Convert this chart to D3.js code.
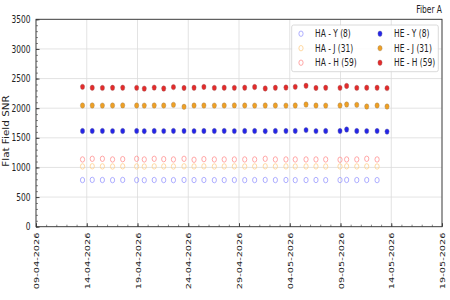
<!DOCTYPE html>
<html>
<head>
<meta charset="utf-8">
<script src="https://cdn.jsdelivr.net/npm/d3@7"></script>
<style>
  body { margin: 0; background: #fff; }
  text { font-family: "DejaVu Sans", sans-serif; fill: #222; }
</style>
</head>
<body>
<div id="chart"></div>
<script>
// observation times (day-month-year hour:minute)
let obsDates = [
  "13-04-2026 14:00", "14-04-2026 13:00", "15-04-2026 13:00", "16-04-2026 13:00", "17-04-2026 13:00",
  "18-04-2026 22:00", "19-04-2026 16:00", "20-04-2026 15:30", "21-04-2026 14:00", "22-04-2026 13:00",
  "23-04-2026 14:00", "24-04-2026 13:40", "25-04-2026 13:00", "26-04-2026 13:40", "27-04-2026 13:00",
  "28-04-2026 13:00", "29-04-2026 13:30", "30-04-2026 13:00", "01-05-2026 14:00", "02-05-2026 14:00",
  "03-05-2026 15:00", "04-05-2026 13:00", "05-05-2026 14:30", "06-05-2026 14:00", "07-05-2026 13:00",
  "08-05-2026 22:50", "09-05-2026 14:30", "10-05-2026 14:30", "11-05-2026 14:00", "12-05-2026 14:30",
  "13-05-2026 14:00"
];

let haY = [787, 790, 788, 786, 789, 787, 785, 788, 787, 786, 789, 787, 788, 786, 787, 788, 786, 787, 789, 787,
           788, 786, 787, 788, 786, 787, 789, 787, 788, 786, null];
let haJ = [1017, 1020, 1018, 1016, 1019, 1017, 1015, 1018, 1017, 1016, 1019, 1017, 1018, 1016, 1017, 1018, 1016, 1017, 1019, 1017,
           1018, 1016, 1017, 1018, 1016, 1017, 1019, 1017, 1018, 1016, null];
let haH = [1135, 1146, 1146, 1135, 1140, 1146, 1135, 1146, 1140, 1135, 1146, 1130, 1140, 1135, 1135, 1135, 1135, 1135, 1146, 1135,
           1135, 1135, 1135, 1135, 1135, 1130, 1135, 1135, 1146, 1135, null];
let heY = [1615, 1614, 1616, 1613, 1615, 1614, 1612, 1615, 1613, 1616, 1614, 1613, 1615, 1614, 1616, 1613, 1615, 1614, 1612, 1615,
           1614, 1616, 1630, 1613, 1615, 1614, 1640, 1615, 1613, 1614, 1605];
let heJ = [2045, 2046, 2044, 2045, 2047, 2045, 2044, 2046, 2045, 2056, 2023, 2045, 2046, 2044, 2045, 2047, 2045, 2044, 2046, 2045,
           2044, 2046, 2062, 2045, 2044, 2046, 2062, 2056, 2028, 2045, 2028];
let heH = [2360, 2345, 2342, 2344, 2346, 2343, 2330, 2347, 2332, 2355, 2341, 2344, 2358, 2342, 2345, 2343, 2346, 2357, 2333, 2344,
           2348, 2360, 2378, 2341, 2344, 2343, 2375, 2342, 2345, 2344, 2338];

let xTickLabels = ["09-04-2026", "14-04-2026", "19-04-2026", "24-04-2026", "29-04-2026",
                   "04-05-2026", "09-05-2026", "14-05-2026", "19-05-2026"];
let yTicks = [0, 500, 1000, 1500, 2000, 2500, 3000, 3500];

let seriesNames = ["HA - Y (8)", "HA - J (31)", "HA - H (59)", "HE - Y (8)", "HE - J (31)", "HE - H (59)"];

let svgWidth = 450;
let svgHeight = 300;
let margin = { top: 19.3, right: 8, bottom: 73.3, left: 36 };
let width = svgWidth - margin.left - margin.right;
let height = svgHeight - margin.top - margin.bottom;
let sy = 1.3; // text looks vertically stretched in the reference

let parseObs = d3.timeParse("%d-%m-%Y %H:%M");
let parseDay = d3.timeParse("%d-%m-%Y");

let svg = d3.select("#chart")
  .append("svg")
  .attr("width", svgWidth)
  .attr("height", svgHeight);

let chartGroup = svg.append("g")
  .attr("transform", `translate(${margin.left}, ${margin.top})`);

let tickDates = xTickLabels.map(parseDay);
let x = d3.scaleTime()
  .domain([tickDates[0], tickDates[tickDates.length - 1]])
  .range([0, width]);

let y = d3.scaleLinear()
  .domain([0, 3500])
  .range([height, 0]);

// grid
chartGroup.append("g")
  .selectAll("line.vg")
  .data(tickDates)
  .enter()
  .append("line")
  .attr("x1", d => x(d)).attr("x2", d => x(d))
  .attr("y1", 0).attr("y2", height)
  .attr("stroke", "#dcdcdc").attr("stroke-width", 0.8);

chartGroup.append("g")
  .selectAll("line.hg")
  .data(yTicks)
  .enter()
  .append("line")
  .attr("x1", 0).attr("x2", width)
  .attr("y1", d => y(d)).attr("y2", d => y(d))
  .attr("stroke", "#dcdcdc").attr("stroke-width", 0.8);

// minor ticks (inside)
let dayTicks = d3.timeDay.range(tickDates[0], tickDates[tickDates.length - 1]);
chartGroup.append("g")
  .call(d3.axisBottom(x).tickValues(dayTicks).tickSize(-2).tickFormat(""))
  .attr("transform", `translate(0, ${height})`)
  .call(g => g.select(".domain").remove())
  .selectAll("line").attr("stroke", "#555").attr("stroke-width", 0.7);

chartGroup.append("g")
  .call(d3.axisLeft(y).tickValues(d3.range(0, 3501, 100)).tickSize(-2).tickFormat(""))
  .call(g => g.select(".domain").remove())
  .selectAll("line").attr("stroke", "#555").attr("stroke-width", 0.7);

// major axes
let leftAxis = d3.axisLeft(y).tickValues(yTicks).tickSize(-3.5).tickPadding(5.5)
  .tickFormat(d3.format("d"));
let bottomAxis = d3.axisBottom(x).tickValues(tickDates).tickSize(-3.5)
  .tickFormat((d, i) => xTickLabels[i]);

chartGroup.append("g")
  .call(leftAxis)
  .call(g => g.select(".domain").remove())
  .call(g => g.selectAll("line").attr("stroke", "#444"))
  .selectAll("text")
  .attr("font-size", 7.5)
  .attr("font-family", "DejaVu Sans")
  .attr("fill", "#222")
  .attr("transform", `scale(1, ${sy})`);

chartGroup.append("g")
  .attr("transform", `translate(0, ${height})`)
  .call(bottomAxis)
  .call(g => g.select(".domain").remove())
  .call(g => g.selectAll("line").attr("stroke", "#444"))
  .selectAll("text")
  .attr("font-size", 7.5)
  .attr("font-family", "DejaVu Sans")
  .attr("fill", "#222")
  .attr("text-anchor", "end")
  .attr("x", -4.5)
  .attr("y", 0)
  .attr("dy", "0.35em")
  .attr("transform", `scale(1, ${sy}) rotate(-90)`);

// frame
chartGroup.append("rect")
  .attr("x", 0).attr("y", 0)
  .attr("width", width).attr("height", height)
  .attr("fill", "none")
  .attr("stroke", "#333")
  .attr("stroke-width", 0.9);

// data
let times = obsDates.map(parseObs);
let seriesList = [haY, haJ, haH, heY, heJ, heH];
let fills = ["none", "none", "none", "#2424e8", "#efa024", "#e42a2a"];
let strokes = ["#9a9aff", "#ffcf8c", "#ff9090", "#6a6a9a", "#9a8060", "#9a5a5a"];
let rx = 2.1, ry = 2.7;

seriesList.forEach(function(vals, si) {
  let pts = vals.map((v, i) => ({ t: times[i], v: v })).filter(d => d.v !== null);
  chartGroup.append("g")
    .selectAll("ellipse")
    .data(pts)
    .enter()
    .append("ellipse")
    .attr("cx", d => x(d.t))
    .attr("cy", d => y(d.v))
    .attr("rx", rx)
    .attr("ry", ry)
    .attr("fill", fills[si])
    .attr("stroke", strokes[si])
    .attr("stroke-width", si < 3 ? 0.8 : 0.4);
});

// legend
let legend = svg.append("g").attr("transform", "translate(291.7, 25)");
legend.append("rect")
  .attr("width", 146.6).attr("height", 46.7)
  .attr("rx", 2)
  .attr("fill", "#fff").attr("fill-opacity", 0.85)
  .attr("stroke", "#d0d0d0").attr("stroke-width", 0.8);

seriesNames.forEach(function(name, i) {
  let col = Math.floor(i / 3);
  let row = i % 3;
  let gx = col === 0 ? 9.3 : 88.3;
  let gy = 8.7 + row * 14.5;
  legend.append("ellipse")
    .attr("cx", gx).attr("cy", gy)
    .attr("rx", rx).attr("ry", ry)
    .attr("fill", fills[i])
    .attr("stroke", strokes[i])
    .attr("stroke-width", i < 3 ? 0.8 : 0.4);
  legend.append("text")
    .attr("transform", `translate(${gx + 14}, ${gy}) scale(1, ${sy})`)
    .attr("dy", "0.36em")
    .attr("font-size", 7.5)
    .text(name);
});

// title
svg.append("text")
  .attr("transform", `translate(442, 13) scale(1, ${sy})`)
  .attr("text-anchor", "end")
  .attr("font-size", 7.5)
  .text("Fiber A");

// y axis label
svg.append("text")
  .attr("transform", `translate(8.7, ${margin.top + height / 2 + 8}) scale(1, ${sy}) rotate(-90)`)
  .attr("text-anchor", "middle")
  .attr("font-size", 8)
  .text("Flat Field SNR");
</script>
</body>
</html>
